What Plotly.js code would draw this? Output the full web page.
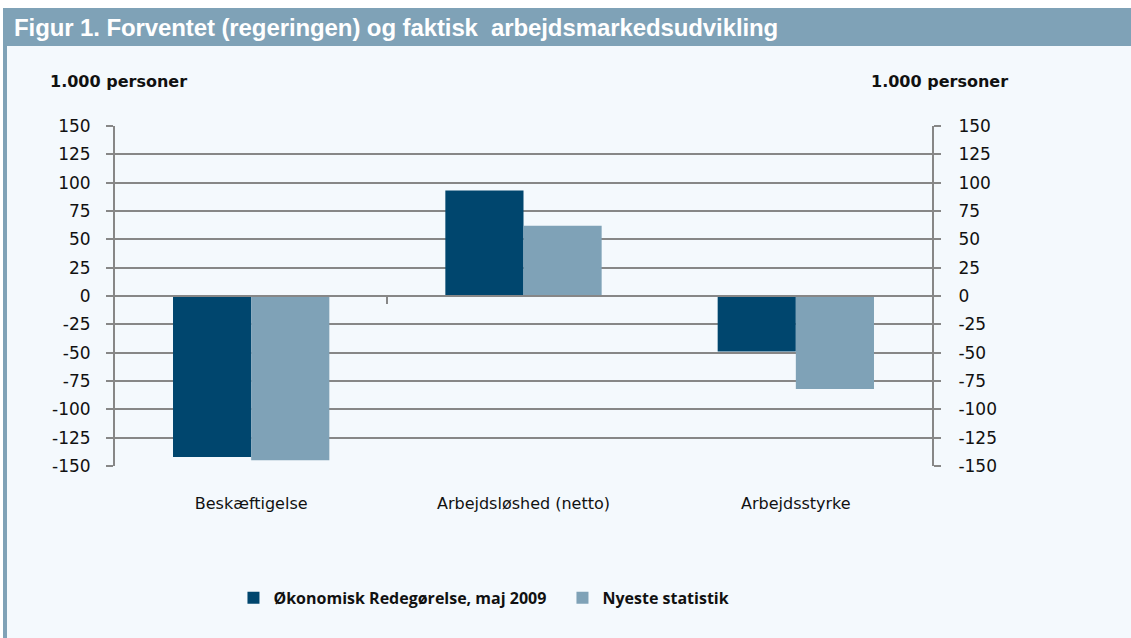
<!DOCTYPE html>
<html>
<head>
<meta charset="utf-8">
<script src="https://cdn.plot.ly/plotly-3.0.1.min.js"></script>
<style>
  html, body { margin: 0; padding: 0; background: #ffffff; }
  #wrap { position: relative; width: 1131px; height: 638px; overflow: hidden; background: #ffffff; }
  #panel { position: absolute; left: 7px; top: 46px; width: 1124px; height: 592px; background: #F4F9FD; }
  #stripe { position: absolute; left: 3px; top: 46px; width: 4px; height: 592px; background: #7FA2B7; }
  #bar { position: absolute; left: 3px; top: 8px; width: 1128px; height: 38px; background: #7FA2B7;
         padding-left: 11px; box-sizing: border-box; overflow: hidden;
         color: #ffffff; font-family: "Liberation Sans", Arial, sans-serif;
         font-weight: bold; font-size: 24px; line-height: 39px; white-space: pre; letter-spacing: -0.1px; }
  #chart { position: absolute; left: 0; top: 0; width: 1131px; height: 638px; }
</style>
</head>
<body>
<div id="wrap">
  <div id="panel"></div>
  <div id="stripe"></div>
  <div id="bar">Figur 1. Forventet (regeringen) og faktisk  arbejdsmarkedsudvikling</div>
  <div id="chart"></div>
</div>
<script>
const categories = ["Beskæftigelse", "Arbejdsløshed (netto)", "Arbejdsstyrke"];
const seriesNames = ["Økonomisk Redegørelse, maj 2009", "Nyeste statistik"];
const forventet = [-142, 93, -49];
const faktisk = [-145, 62, -82];
const yTicks = [150, 125, 100, 75, 50, 25, 0, -25, -50, -75, -100, -125, -150];
const unitLabel = "1.000 personer";

const dark = "#00466E";
const light = "#7FA2B7";
const grid = "#878787";
const font = "'DejaVu Sans', sans-serif";
const legendFont = "'Open Sans', 'Noto Sans', sans-serif";

const traces = [
  { type: "bar", name: seriesNames[0], x: categories, y: forventet, marker: { color: dark }, hoverinfo: "y" },
  { type: "bar", name: seriesNames[1], x: categories, y: faktisk, marker: { color: light }, hoverinfo: "y" },
  { type: "scatter", mode: "markers", x: [], y: [], xaxis: "x2", yaxis: "y2", showlegend: false, hoverinfo: "skip" }
];

const yAxisCommon = {
  range: [-150, 150],
  tickvals: yTicks,
  ticktext: yTicks.map(String),
  ticks: "outside",
  ticklen: 7,
  tickwidth: 2,
  tickcolor: grid,
  showline: true,
  linecolor: grid,
  linewidth: 2,
  tickfont: { family: font, size: 17, color: "#111111" },
  fixedrange: true
};

const layout = {
  width: 1131,
  height: 638,
  paper_bgcolor: "rgba(0,0,0,0)",
  plot_bgcolor: "rgba(0,0,0,0)",
  margin: { l: 115, r: 199, t: 126, b: 172, pad: 0 },
  barmode: "group",
  bargap: 0.426,
  bargroupgap: 0,
  showlegend: true,
  legend: {
    orientation: "h",
    x: 0.145, xanchor: "left",
    y: -0.388, yanchor: "middle",
    font: { family: legendFont, size: 16, color: "#111111", weight: "bold" },
    itemwidth: 30,
    entrywidth: 284,
    bgcolor: "rgba(0,0,0,0)"
  },
  xaxis: {
    type: "category",
    range: [-0.5, 2.5],
    showline: false,
    showgrid: false,
    zeroline: false,
    ticks: "",
    ticklabelstandoff: 26,
    tickfont: { family: font, size: 16, color: "#111111" },
    fixedrange: true
  },
  xaxis2: {
    overlaying: "x",
    anchor: "free",
    position: 0.5,
    range: [-0.5, 2.5],
    tickvals: [0.5],
    showticklabels: false,
    ticks: "outside",
    ticklen: 7,
    tickwidth: 2,
    tickcolor: grid,
    showline: true,
    linecolor: grid,
    linewidth: 2,
    showgrid: false,
    zeroline: false,
    fixedrange: true
  },
  yaxis: Object.assign({}, yAxisCommon, {
    side: "left",
    showgrid: true,
    gridcolor: grid,
    gridwidth: 2,
    zeroline: true,
    zerolinecolor: grid,
    zerolinewidth: 2,
    ticklabelstandoff: 12
  }),
  yaxis2: Object.assign({}, yAxisCommon, {
    overlaying: "y",
    side: "right",
    anchor: "x",
    showgrid: false,
    zeroline: false,
    ticklabelstandoff: 14
  }),
  annotations: [
    { text: "<b>" + unitLabel + "</b>", xref: "paper", yref: "paper", x: -0.082, y: 1.13, xanchor: "left", yanchor: "middle",
      showarrow: false, font: { family: font, size: 16, color: "#111111" } },
    { text: "<b>" + unitLabel + "</b>", xref: "paper", yref: "paper", x: 1.0955, y: 1.13, xanchor: "right", yanchor: "middle",
      showarrow: false, font: { family: font, size: 16, color: "#111111" } }
  ]
};

Plotly.newPlot("chart", traces, layout, { displayModeBar: false, responsive: false });
</script>
</body>
</html>
